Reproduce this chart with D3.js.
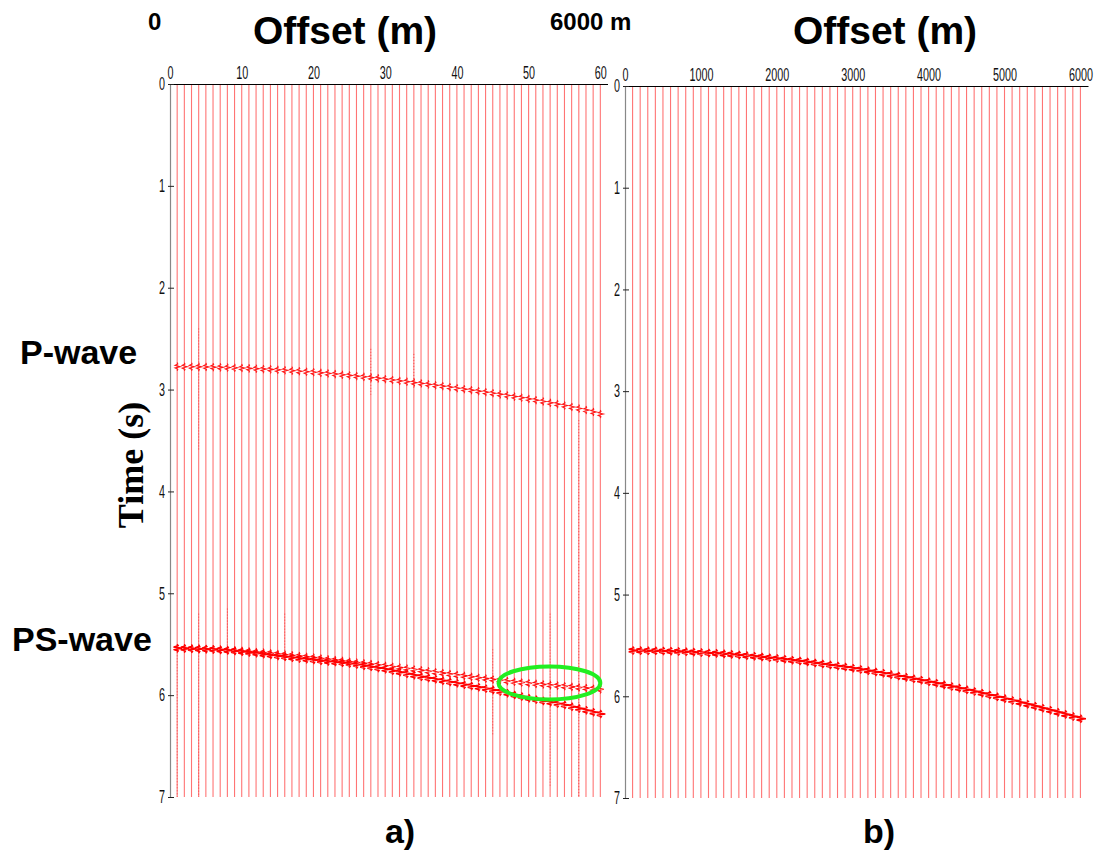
<!DOCTYPE html>
<html>
<head>
<meta charset="utf-8">
<script src="https://cdn.jsdelivr.net/npm/d3@7"></script>
<style>
  body { margin: 0; background: #fff; }
  svg { display: block; }
  .tick text { font-family: "Liberation Sans", Arial, sans-serif; font-size: 18px; fill: #111; }
  .bold { font-family: "Liberation Sans", Arial, sans-serif; font-weight: bold; fill: #000; }
</style>
</head>
<body>
<div id="chart"></div>
<script>
// trace numbers (panel a) and offsets in metres (panel b)
const traceNumbers = [1,2,3,4,5,6,7,8,9,10,11,12,13,14,15,16,17,18,19,20,
  21,22,23,24,25,26,27,28,29,30,31,32,33,34,35,36,37,38,39,40,
  41,42,43,44,45,46,47,48,49,50,51,52,53,54,55,56,57,58,59,60];
const offsetsM = [100,200,300,400,500,600,700,800,900,1000,1100,1200,1300,1400,1500,1600,1700,1800,1900,2000,
  2100,2200,2300,2400,2500,2600,2700,2800,2900,3000,3100,3200,3300,3400,3500,3600,3700,3800,3900,4000,
  4100,4200,4300,4400,4500,4600,4700,4800,4900,5000,5100,5200,5300,5400,5500,5600,5700,5800,5900,6000];

const ticksA = [0, 10, 20, 30, 40, 50, 60];
const ticksB = [0, 1000, 2000, 3000, 4000, 5000, 6000];
const timeTicks = [0, 1, 2, 3, 4, 5, 6, 7];

// picked arrival times (s), one per trace
const pWaveA = [2.775,2.776,2.776,2.777,2.778,2.780,2.782,2.784,2.786,2.789,
  2.792,2.795,2.799,2.802,2.806,2.811,2.815,2.820,2.825,2.830,
  2.836,2.842,2.848,2.855,2.861,2.868,2.875,2.883,2.890,2.898,
  2.906,2.915,2.923,2.932,2.940,2.949,2.958,2.967,2.977,2.987,
  2.996,3.006,3.016,3.026,3.036,3.047,3.058,3.069,3.080,3.092,
  3.104,3.117,3.130,3.143,3.157,3.171,3.186,3.201,3.220,3.240];
const psWaveA = [5.540,5.542,5.544,5.546,5.549,5.552,5.556,5.561,5.566,5.573,
  5.581,5.589,5.598,5.607,5.616,5.624,5.632,5.640,5.648,5.655,
  5.662,5.669,5.676,5.683,5.690,5.700,5.711,5.722,5.734,5.746,
  5.760,5.775,5.790,5.805,5.819,5.832,5.845,5.858,5.871,5.884,
  5.897,5.910,5.923,5.936,5.949,5.965,5.981,5.998,6.014,6.031,
  6.044,6.057,6.070,6.083,6.097,6.114,6.131,6.149,6.167,6.185];
const psWaveA2 = [5.540,5.541,5.543,5.545,5.547,5.550,5.553,5.557,5.561,5.566,
  5.571,5.577,5.583,5.589,5.596,5.603,5.610,5.617,5.624,5.632,
  5.640,5.648,5.656,5.664,5.672,5.680,5.688,5.696,5.704,5.712,
  5.721,5.730,5.739,5.748,5.757,5.766,5.775,5.784,5.793,5.802,
  5.811,5.820,5.829,5.838,5.846,5.854,5.862,5.869,5.876,5.883,
  5.889,5.895,5.901,5.907,5.913,5.919,5.925,5.931,5.937,5.943];
const psWaveB = [5.550,5.551,5.552,5.553,5.555,5.557,5.559,5.562,5.566,5.570,
  5.574,5.578,5.583,5.588,5.594,5.600,5.607,5.613,5.621,5.628,
  5.636,5.645,5.653,5.662,5.672,5.682,5.692,5.703,5.713,5.725,
  5.736,5.748,5.761,5.774,5.787,5.800,5.814,5.828,5.842,5.857,
  5.872,5.888,5.904,5.920,5.936,5.953,5.970,5.987,6.005,6.023,
  6.042,6.060,6.079,6.098,6.118,6.138,6.158,6.178,6.199,6.220];

// noisy trace segments in panel a: [trace, t start, t end]
const noiseA = [[1, 5.55, 7.0], [4, 2.4, 3.6], [4, 5.2, 7.0], [8, 5.15, 5.55], [16, 5.2, 5.6],
  [45, 5.55, 6.4], [53, 5.2, 6.9], [57, 3.3, 7.0], [28, 2.6, 3.05], [34, 2.65, 3.0]];

// highlighted area (panel a): trace, time, half-width (traces), half-height (s)
const ellipseA = {trace: 52.9, t: 5.88, rx: 7.1, ry: 0.162};

// wavelet shape: [lag (s), relative amplitude]
const wavelet = [[-0.04,0],[-0.026,0.2],[-0.013,-0.7],[0,1],[0.013,-0.7],[0.026,0.2],[0.04,0]];

var W = 1098, H = 855;
var svg = d3.select("#chart").append("svg")
    .attr("width", W).attr("height", H);

var xA = d3.scaleLinear().domain([0, 61]).range([170, 607.5]);
var yA = d3.scaleLinear().domain([0, 7]).range([84, 797]);
var xB = d3.scaleLinear().domain([0, 6100]).range([625, 1088]);
var yB = d3.scaleLinear().domain([0, 7]).range([86, 798]);

var waveLine = d3.line();

function drawPanel(g, xs, ys, positions, events, noise) {
    // traces
    g.append("g").selectAll("line")
        .data(positions).join("line")
        .attr("x1", d => xs(d)).attr("x2", d => xs(d))
        .attr("y1", ys(0)).attr("y2", ys(7))
        .attr("stroke", "#ff7474").attr("stroke-width", 1.1);

    if (noise) {
        g.append("g").selectAll("line")
            .data(noise).join("line")
            .attr("x1", d => xs(d[0])).attr("x2", d => xs(d[0]))
            .attr("y1", d => ys(d[1])).attr("y2", d => ys(d[2]))
            .attr("stroke", "#f02020").attr("stroke-width", 0.9)
            .attr("stroke-opacity", 0.75)
            .attr("stroke-dasharray", "1,2");
    }

    events.forEach(function(ev) {
        g.append("g").selectAll("path")
            .data(positions.map((p, i) => [p, ev.times[i]])).join("path")
            .attr("d", d => waveLine(wavelet.map(w => [xs(d[0]) + ev.amp * w[1], ys(d[1] + w[0])])))
            .attr("fill", "none")
            .attr("stroke", ev.color)
            .attr("stroke-width", ev.width);
    });
}

function drawAxes(g, xs, ys, ticks) {
    var top = g.append("g")
        .attr("transform", "translate(0," + ys(0) + ")")
        .call(d3.axisTop(xs).tickValues(ticks).tickSize(0).tickPadding(5).tickFormat(d3.format("d")));
    top.select(".domain").attr("stroke", "#000").attr("stroke-width", 1.2);
    top.selectAll("text").attr("transform", "scale(0.6,1)");

    var left = g.append("g")
        .attr("transform", "translate(" + xs(0) + ",0)")
        .call(d3.axisLeft(ys).tickValues(timeTicks).tickSizeInner(-4).tickSizeOuter(0).tickFormat(d3.format("d")));
    left.select(".domain").attr("stroke", "#888").attr("stroke-width", 1.2);
    left.selectAll(".tick line").attr("stroke", "#222").attr("x1", -2);
    left.selectAll("text").attr("x", -5 / 0.6).attr("transform", "scale(0.6,1)");
}

var gA = svg.append("g");
drawPanel(gA, d => xA(d), yA, traceNumbers, [
    {times: pWaveA, amp: 3, color: "#ff1a1a", width: 1.1},
    {times: psWaveA2, amp: 3.5, color: "#ff1010", width: 1.1},
    {times: psWaveA, amp: 5, color: "#ff0000", width: 1.4}
], noiseA);
drawAxes(gA, xA, yA, ticksA);

var gB = svg.append("g");
drawPanel(gB, xB, yB, offsetsM, [
    {times: psWaveB, amp: 5.5, color: "#ff0000", width: 1.5}
], null);
drawAxes(gB, xB, yB, ticksB);

// highlight ellipse
svg.append("ellipse")
    .attr("cx", xA(ellipseA.trace)).attr("cy", yA(ellipseA.t))
    .attr("rx", xA(ellipseA.rx) - xA(0)).attr("ry", yA(ellipseA.ry) - yA(0))
    .attr("fill", "none").attr("stroke", "#22ee22").attr("stroke-width", 4);

// titles and labels
svg.append("text").attr("class", "bold").attr("x", 345).attr("y", 44)
    .attr("text-anchor", "middle").style("font-size", "39px").text("Offset (m)");
svg.append("text").attr("class", "bold").attr("x", 885).attr("y", 44)
    .attr("text-anchor", "middle").style("font-size", "39px").text("Offset (m)");
svg.append("text").attr("class", "bold").attr("x", 148).attr("y", 30)
    .style("font-size", "24px").text("0");
svg.append("text").attr("class", "bold").attr("x", 550).attr("y", 30)
    .style("font-size", "24px").text("6000 m");

svg.append("text").attr("class", "bold").attr("x", 20).attr("y", 364)
    .style("font-size", "34px").text("P-wave");
svg.append("text").attr("class", "bold").attr("x", 12).attr("y", 651)
    .style("font-size", "34px").text("PS-wave");

svg.append("text")
    .attr("transform", "translate(143,465) rotate(-90)")
    .attr("text-anchor", "middle")
    .style("font-family", "'Liberation Serif', 'Times New Roman', serif")
    .style("font-weight", "bold").style("font-size", "36px")
    .text("Time (s)");

svg.append("text").attr("class", "bold").attr("x", 400).attr("y", 843)
    .attr("text-anchor", "middle").style("font-size", "34px").text("a)");
svg.append("text").attr("class", "bold").attr("x", 879).attr("y", 843)
    .attr("text-anchor", "middle").style("font-size", "34px").text("b)");
</script>
</body>
</html>
